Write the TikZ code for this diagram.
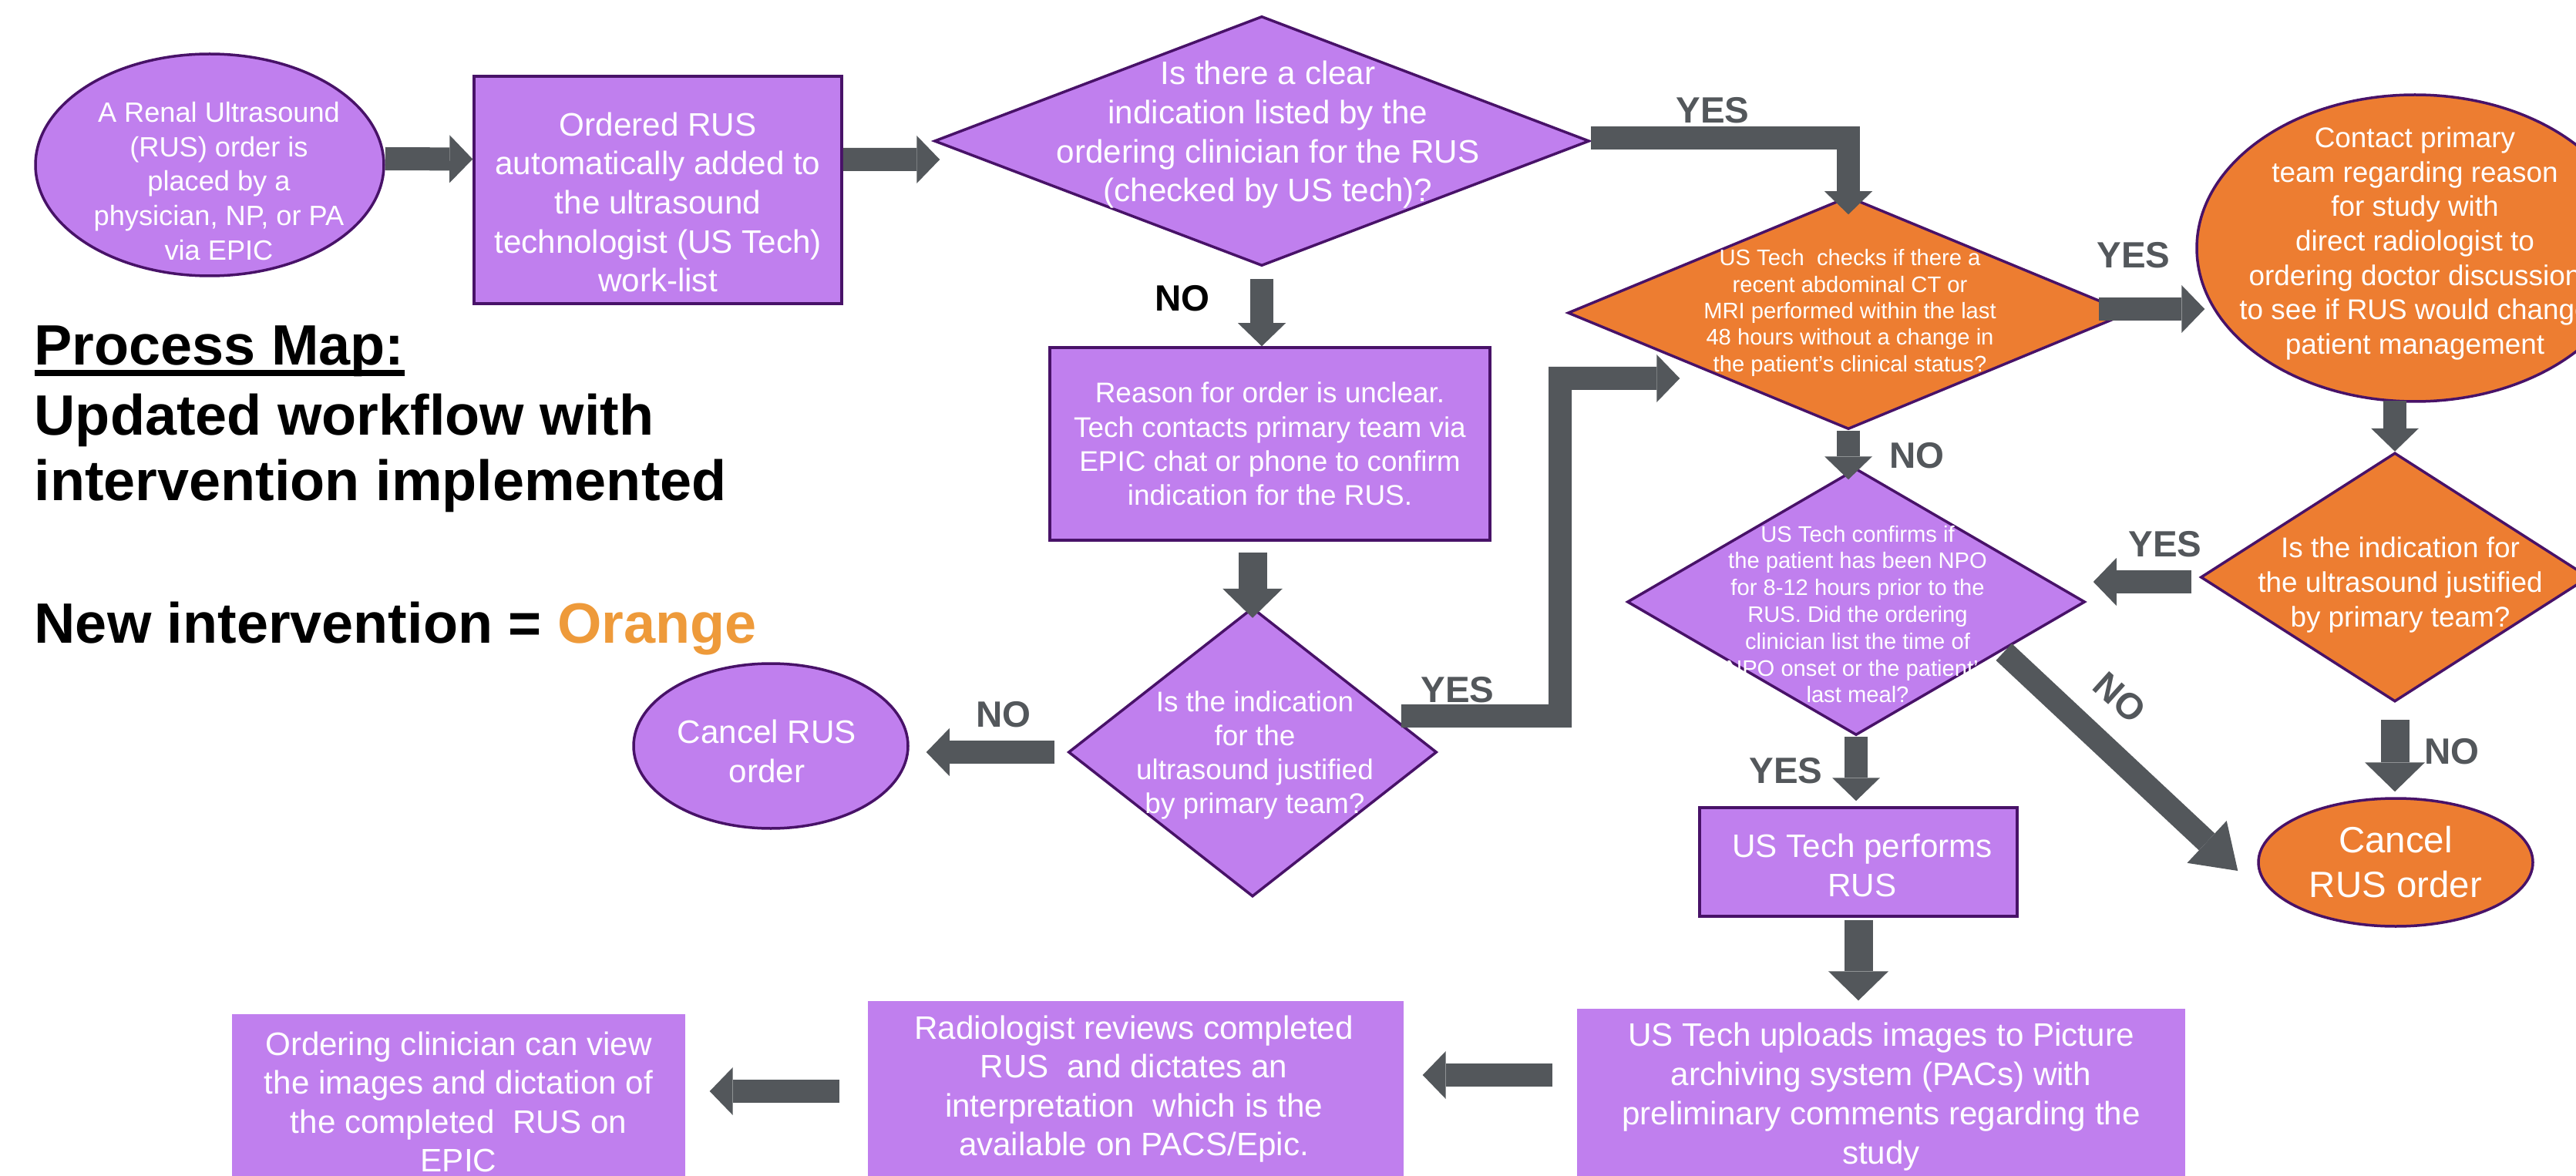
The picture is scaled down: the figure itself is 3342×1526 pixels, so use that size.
\documentclass[tikz,border=0pt]{standalone}
\usepackage{fontspec}
\setmainfont{Liberation Sans}
\usepackage{tikz}
\usetikzlibrary{arrows.meta,shapes.geometric}
\definecolor{lilac}{RGB}{192,127,238}
\definecolor{ornge}{RGB}{237,125,49}
\definecolor{edge}{RGB}{72,18,104}
\definecolor{arrowgray}{RGB}{83,87,91}
\definecolor{legendorange}{RGB}{238,154,58}
\newcommand{\fsz}[2]{\fontsize{#1}{#2}\selectfont}
\newcommand{\mapul}[1]{\setbox0\hbox{#1}\rlap{\rule[-1.45mm]{\wd0}{0.85mm}}\box0}

\begin{document}
\begin{tikzpicture}[x=0.1mm, y=-0.1mm,
    purp/.style={fill=lilac, draw=edge, line width=0.35mm, inner sep=0pt},
    orng/.style={fill=ornge, draw=edge, line width=0.35mm, inner sep=0pt},
    flat/.style={fill=lilac, inner sep=0pt},
    txt/.style={text=white, align=center, inner sep=0pt},
    flow/.style={draw=arrowgray, line width=3mm, -{Triangle[width=6.2mm, length=3mm, line width=0pt]}},
    bigflow/.style={draw=arrowgray, line width=3.7mm, -{Triangle[width=7.8mm, length=3.8mm, line width=0pt]}},
    yn/.style={text=arrowgray, font=\bfseries\fsz{13.5}{16}, inner sep=0pt},
    head/.style={font=\bfseries\fsz{21}{25}, inner sep=0pt, anchor=base west}]
            \useasboundingbox (0,0) rectangle (3342,1526);
            % title
            \node[head](title)at(44,474){\mapul{Process Map:}};
            \node[head](upd)at(44,564){Updated workflow with};
            \node[head](impl)at(44,650){intervention implemented};
            \node[head](legend)at(44,834){New intervention = \textcolor{legendorange}{Orange}};
            % first row
            \node[purp, ellipse, minimum width=45.2mm, minimum height=28.8mm,
                label={[txt, font=\fsz{10.3}{12.7}, xshift=1.2mm, yshift=-2.1mm]center:{A Renal Ultrasound\\(RUS) order is\\placed by a\\physician, NP, or PA\\via EPIC}}](order)at(272,214){};
            \node[purp, minimum width=47.7mm, minimum height=29.5mm,
                label={[txt, font=\fsz{12}{14.4}, yshift=-1.6mm]center:{Ordered RUS\\automatically added to\\the ultrasound\\technologist (US Tech)\\work-list}}](worklist)at(853.5,246.5){};
            \node[purp, diamond, minimum width=85mm, minimum height=32.4mm,
                label={[txt, font=\fsz{12}{14.4}, xshift=.8mm, yshift=.8mm]center:{Is there a clear\\indication listed by the\\ordering clinician for the RUS\\(checked by US tech)?}}](clearq)at(1637,183){};
            % unclear branch
            \node[purp, minimum width=57.1mm, minimum height=25mm,
                label={[txt, font=\fsz{10.5}{12.6}]center:{Reason for order is unclear.\\Tech contacts primary team via\\EPIC chat or phone to confirm\\indication for the RUS.}}](unclear)at(1647.5,576){};
            \node[purp, diamond, minimum width=47.8mm, minimum height=37.5mm,
                label={[txt, font=\fsz{10.5}{12.6}, xshift=.3mm, yshift=-.4mm]center:{Is the indication\\for the\\ultrasound justified\\by primary team?}}](justq)at(1625,976){};
            \node[purp, ellipse, minimum width=35.6mm, minimum height=21.4mm,
                label={[txt, font=\fsz{12}{14.5}, xshift=-.5mm, yshift=-.65mm]center:{Cancel RUS\\order}}](cancelA)at(1000,968){};
            % new intervention
            \node[orng, diamond, minimum width=72.8mm, minimum height=30.2mm,
                label={[txt, font=\fsz{8.3}{9.8}, xshift=.2mm]center:{US Tech\ \ checks if there a\\recent abdominal CT or\\MRI performed within the last\\48 hours without a change in\\the patient’s clinical status?}}](imaging)at(2398,406){};
            \node[orng, ellipse, minimum width=56.6mm, minimum height=39.8mm,
                label={[txt, font=\fsz{10.5}{12.7}, yshift=.6mm]center:{Contact primary\\team regarding reason\\for study with\\direct radiologist to\\ordering doctor discussion\\to see if RUS would change\\patient management}}](contact)at(3133,322){};
            \node[orng, diamond, minimum width=50.4mm, minimum height=32.3mm,
                label={[txt, font=\fsz{10.5}{12.7}, xshift=.7mm, yshift=-1mm]center:{Is the indication for\\the ultrasound justified\\by primary team?}}](justqB)at(3107,749){};
            \node[orng, ellipse, minimum width=35.6mm, minimum height=16.6mm,
                label={[txt, font=\fsz{13.5}{16.5}]center:{Cancel\\RUS order}}](cancelB)at(3108,1119){};
            % npo check
            \node[purp, diamond, minimum width=59.4mm, minimum height=34.6mm,
                label={[txt, font=\fsz{8.3}{9.9}, xshift=.2mm, yshift=-1.6mm]center:{US Tech confirms if\\the patient has been NPO\\for 8-12 hours prior to the\\RUS. Did the ordering\\clinician list the time of\\NPO onset or the patient’s\\last meal?}}](npo)at(2408,781){};
            \node[purp, minimum width=41.2mm, minimum height=14.1mm,
                label={[txt, font=\fsz{12}{14.4}, xshift=.5mm, yshift=-.45mm]center:{US Tech performs\\RUS}}](perform)at(2411,1118.5){};
            % bottom row
            \node[flat, minimum width=78.9mm, minimum height=22.8mm,
                label={[txt, font=\fsz{12}{14.5}]center:{US Tech uploads images to Picture\\archiving system (PACs) with\\preliminary comments regarding the\\study}}](upload)at(2440.5,1423){};
            \node[flat, minimum width=69.5mm, minimum height=22.8mm,
                label={[txt, font=\fsz{12}{14.4}, xshift=-.25mm]center:{Radiologist reviews completed\\RUS\ \ and dictates an\\interpretation\ \ which is the\\available on PACS/Epic.}}](review)at(1473.5,1413){};
            \node[flat, minimum width=58.8mm, minimum height=22.8mm,
                label={[txt, font=\fsz{12}{14.3}]center:{Ordering clinician can view\\the images and dictation of\\the completed\ \ RUS on\\EPIC}}](view)at(595,1430){};
            % arrows
            \path[draw, flow]([yshift=.8mm]order.east)to([yshift=4mm]worklist.west);
            \path[draw, flow]([yshift=3.95mm]worklist.east)to([xshift=.9mm,yshift=-2.4mm]clearq.west);
            \path[draw, flow]([yshift=.4mm]clearq.east)-|([yshift=-2.5mm]imaging.north);
            \path[draw, flow, shorten <=1.5mm](clearq.south)to(clearq.south|-unclear.north);
            \path[draw, bigflow, shorten <=1.4mm, shorten >=-1.5mm](unclear.south-|justq.north)to(justq.north);
            \path[draw, flow, shorten <=1.6mm, shorten >=2.2mm](justq.west)to(justq.west-|cancelA.east);
            \coordinate(bendA)at(2024,929);
            \path[draw, flow]([xshift=-4.8mm,yshift=4.7mm]justq.east)--(bendA)|-([xshift=14.7mm,yshift=-8.5mm]imaging.west);
            \path[draw, flow, shorten <=-4.1mm, shorten >=-1.2mm]([yshift=.5mm]imaging.east)to([yshift=.5mm]imaging.east-|contact.west);
            \path[draw, flow, shorten >=-1.6mm](imaging.south)to(imaging.south|-npo.north);
            \path[draw, flow, shorten <=-.3mm](contact.south-|justqB.north)to(justqB.north);
            \path[draw, flow, shorten <=1mm, shorten >=.9mm]([yshift=-.6mm]justqB.west)to([yshift=-.6mm]justqB.west-|npo.east);
            \path[draw, bigflow, shorten <=2.2mm, shorten >=.7mm](justqB.south)to(justqB.south|-cancelB.north);
            \path[draw, flow, -{Triangle[width=7.5mm, length=5.5mm, line width=0pt]}]([xshift=-10.7mm,yshift=-6.5mm]npo.east)to([xshift=-2.5mm,yshift=-1.1mm]cancelB.west);
            \path[draw, flow, shorten >=.7mm](npo.south)to(npo.south|-perform.north);
            \path[draw, bigflow, shorten <=.3mm, shorten >=1mm](perform.south)to(perform.south|-upload.north);
            \path[draw, flow, shorten <=3.1mm, shorten >=2.4mm]([yshift=2.8mm]upload.west)to([yshift=2.8mm]upload.west-|review.east);
            \path[draw, flow, shorten <=3.6mm, shorten >=3.1mm]([yshift=-.3mm]review.west)to([yshift=-.3mm]review.west-|view.east);
            % yes / no
            \node[yn](yesA)at(2222,143){YES};
            \node[yn, text=black](noA)at(1534,387){NO};
            \node[yn](noB)at(1302,927){NO};
            \node[yn](yesB)at(1891,895){YES};
            \node[yn](yesC)at(2768,331){YES};
            \node[yn](noC)at(2487,591){NO};
            \node[yn](yesD)at(2809,706){YES};
            \node[yn, rotate=-42](noD)at(2750,905){NO};
            \node[yn](noE)at(3181,975){NO};
            \node[yn](yesE)at(2317,1000){YES};
        \end{tikzpicture}
\end{document}
